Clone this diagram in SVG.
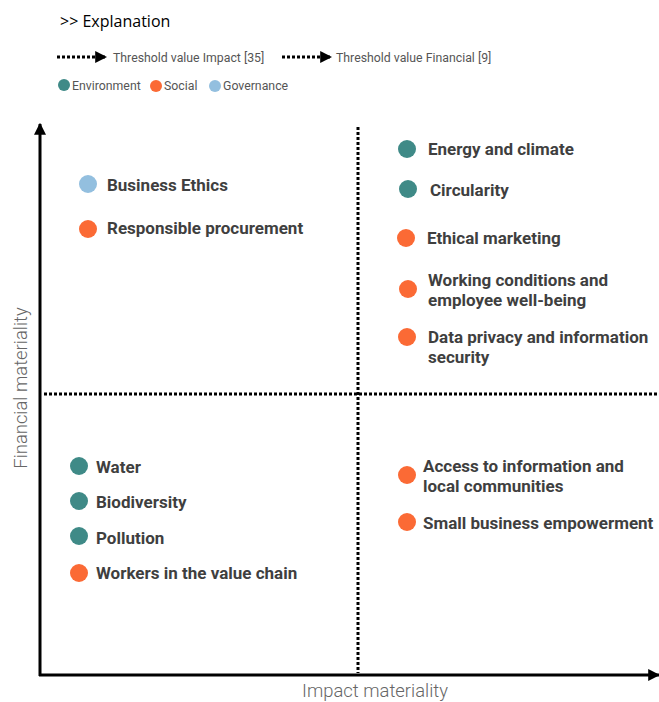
<svg xmlns="http://www.w3.org/2000/svg" width="659" height="702" viewBox="0 0 659 702">
<style>
.lbl{font-family:Roboto,"Liberation Sans",sans-serif;font-weight:bold;font-size:17px;fill:#3f3f3f}
.leg{font-family:Roboto,"Liberation Sans",sans-serif;font-size:12.3px;fill:#555}
.ax{font-family:Roboto,"Liberation Sans",sans-serif;font-weight:300;font-size:18.4px;fill:#666}
.env{fill:#3f8a87}.soc{fill:#fb6a35}.gov{fill:#93bfdf}
.dot{stroke:#000;stroke-width:3;stroke-dasharray:3 2;fill:none}
.axis{stroke:#000;stroke-width:3;fill:none}
</style>
<defs>
<marker id="ah" viewBox="0 0 10 10" refX="9" refY="5" markerWidth="4" markerHeight="4" orient="auto" markerUnits="strokeWidth"><path d="M0,0L10,5L0,10z" fill="#000"/></marker>
<marker id="ahs" viewBox="0 0 10 10" refX="9" refY="5" markerWidth="4" markerHeight="4" orient="auto" markerUnits="strokeWidth"><path d="M0,0L10,5L0,10z" fill="#000"/></marker>
</defs>
<rect width="659" height="702" fill="#fff"/>
<g id="legend">
<text x="60" y="27" style="font-family:'Open Sans','Noto Sans',sans-serif;font-size:16px;fill:#000">&gt;&gt; Explanation</text>
<line x1="57" y1="57" x2="106" y2="57" class="dot" marker-end="url(#ahs)"/>
<text x="113" y="62" class="leg">Threshold value Impact [35]</text>
<line x1="282" y1="57" x2="331" y2="57" class="dot" marker-end="url(#ahs)"/>
<text x="336" y="62" class="leg">Threshold value Financial [9]</text>
<circle cx="64" cy="85" r="6" class="env"/><text x="72" y="90" class="leg">Environment</text>
<circle cx="156" cy="86" r="6" class="soc"/><text x="164" y="90" class="leg">Social</text>
<circle cx="215" cy="86" r="6" class="gov"/><text x="223" y="90" class="leg">Governance</text>
</g>
<g id="connectors">
<line x1="40" y1="676" x2="40" y2="124" class="axis" marker-end="url(#ah)"/>
<line x1="39" y1="675" x2="659" y2="675" class="axis" marker-end="url(#ah)"/>
<line x1="358" y1="127" x2="358" y2="673" class="dot"/>
<line x1="44" y1="394" x2="659" y2="394" class="dot"/>
</g>
<g id="axis-labels">
<text x="375" y="697" text-anchor="middle" class="ax">Impact materiality</text>
<text transform="translate(27,388) rotate(-90)" text-anchor="middle" class="ax">Financial  materiality</text>
</g>
<g id="business-ethics"><circle cx="88" cy="184" r="9" class="gov"/><text x="107" y="191" class="lbl">Business Ethics</text></g>
<g id="responsible-procurement"><circle cx="88" cy="229" r="9" class="soc"/><text x="107" y="234" class="lbl">Responsible procurement</text></g>
<g id="energy-climate"><circle cx="407" cy="149" r="9" class="env"/><text x="428" y="155" class="lbl">Energy and climate</text></g>
<g id="circularity"><circle cx="408" cy="189" r="9" class="env"/><text x="430" y="196" class="lbl">Circularity</text></g>
<g id="ethical-marketing"><circle cx="406" cy="238" r="9" class="soc"/><text x="427" y="244" class="lbl">Ethical marketing</text></g>
<g id="working-conditions"><circle cx="408" cy="289" r="9" class="soc"/><text x="428" y="286" class="lbl">Working conditions and</text><text x="428" y="306" class="lbl">employee well-being</text></g>
<g id="data-privacy"><circle cx="407" cy="337" r="9" class="soc"/><text x="428" y="343" class="lbl">Data privacy and information</text><text x="428" y="363" class="lbl">security</text></g>
<g id="water"><circle cx="79" cy="466" r="9" class="env"/><text x="96" y="473" class="lbl">Water</text></g>
<g id="biodiversity"><circle cx="79" cy="501" r="9" class="env"/><text x="96" y="508" class="lbl">Biodiversity</text></g>
<g id="pollution"><circle cx="79" cy="536" r="9" class="env"/><text x="96" y="544" class="lbl">Pollution</text></g>
<g id="workers-value-chain"><circle cx="79" cy="573" r="9" class="soc"/><text x="96" y="579" class="lbl">Workers in the value chain</text></g>
<g id="access-information"><circle cx="407" cy="475" r="9" class="soc"/><text x="423" y="472" class="lbl">Access to information and</text><text x="423" y="492" class="lbl">local communities</text></g>
<g id="small-business"><circle cx="407" cy="522" r="9" class="soc"/><text x="423" y="529" class="lbl">Small business empowerment</text></g>
</svg>
